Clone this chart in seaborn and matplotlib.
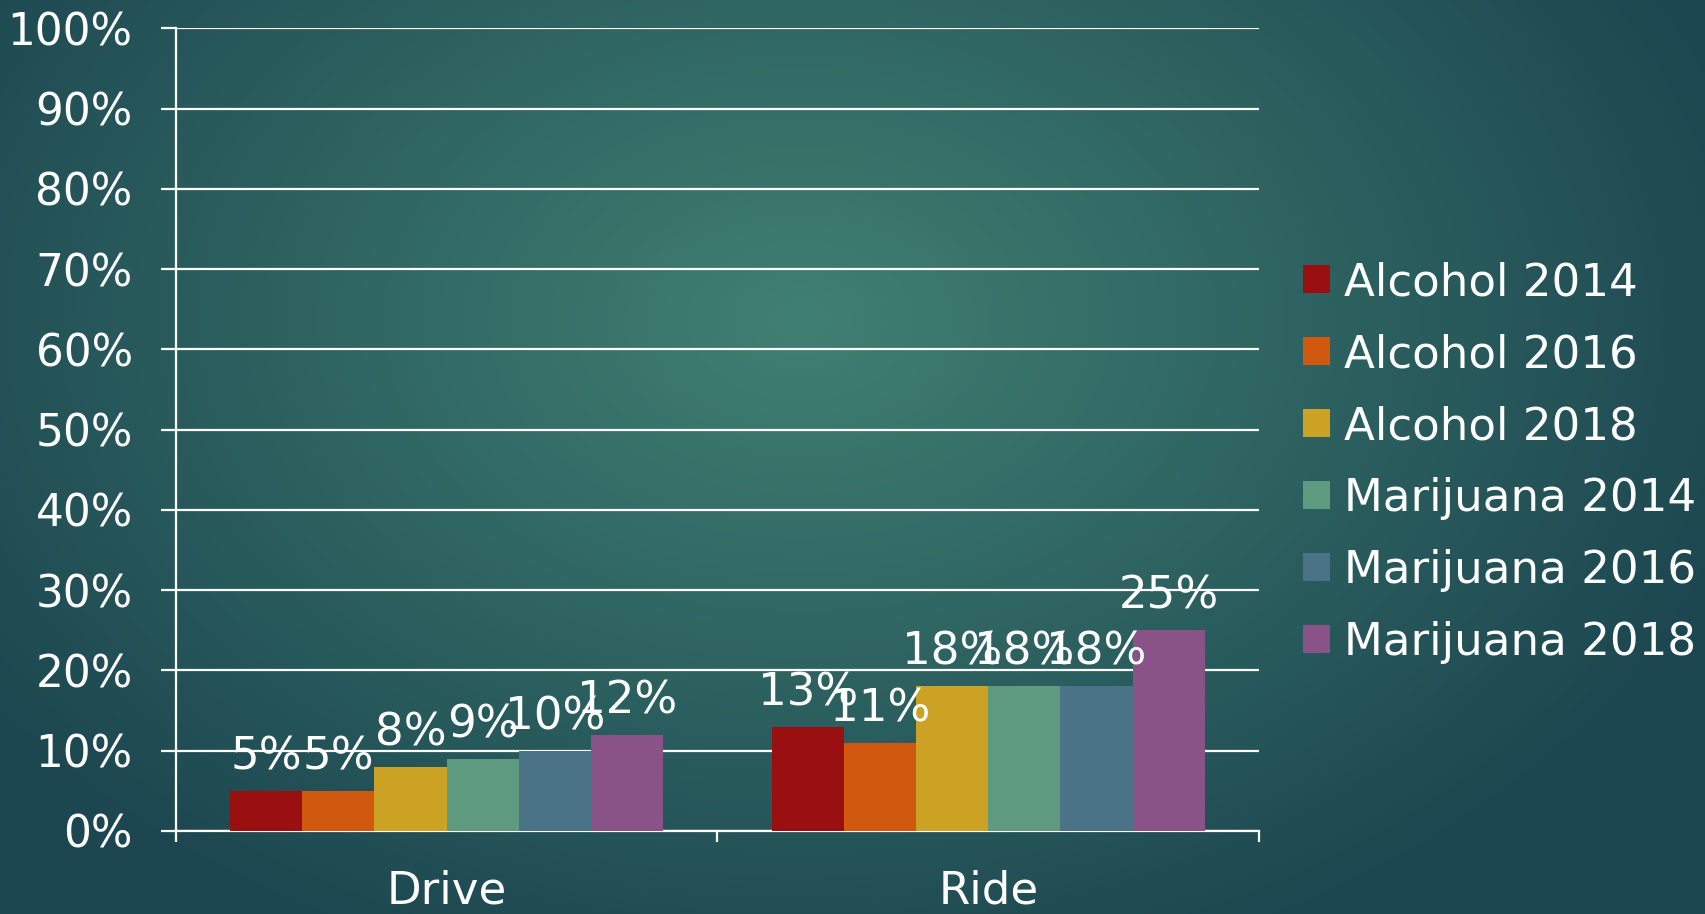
import numpy as np
import pandas as pd
import seaborn as sns
import matplotlib.pyplot as plt
from matplotlib.ticker import PercentFormatter
from matplotlib.patches import Patch

categories = ['Drive', 'Ride']
series = ['Alcohol 2014', 'Alcohol 2016', 'Alcohol 2018',
          'Marijuana 2014', 'Marijuana 2016', 'Marijuana 2018']
drive = [0.05, 0.05, 0.08, 0.09, 0.10, 0.12]
ride = [0.13, 0.11, 0.18, 0.18, 0.18, 0.25]
colors = ['#9a1010', '#d0580f', '#cba224', '#5e9a80', '#4a7388', '#8a5388']

df = pd.DataFrame({
    'Category': ['Drive'] * 6 + ['Ride'] * 6,
    'Series': series * 2,
    'Value': drive + ride,
})

sns.set_theme(style='white')
plt.rcParams['font.family'] = ['DejaVu Sans']
fs = 32.5

fig = plt.figure(figsize=(17.06, 9.14), dpi=100)

# background radial gradient
bg = fig.add_axes([0, 0, 1, 1], zorder=-10)
yy, xx = np.mgrid[0:914, 0:1706]
r = np.sqrt(((xx - 800) / 1000.0) ** 2 + ((yy - 320) / 700.0) ** 2)
r = np.clip(r, 0, 1)
c0 = np.array([0x40, 0x80, 0x72]) / 255.0
c1 = np.array([0x1c, 0x46, 0x50]) / 255.0
img = c0[None, None, :] * (1 - r[..., None]) + c1[None, None, :] * r[..., None]
bg.imshow(img, aspect='auto', extent=[0, 1, 0, 1])
bg.axis('off')

ax = fig.add_axes([0.103, 0.091, 0.635, 0.878])
ax.set_facecolor('none')

sns.barplot(data=df, x='Category', y='Value', hue='Series', palette=colors,
            order=categories, hue_order=series, width=0.8, saturation=1,
            linewidth=0, ax=ax, legend=False, zorder=3)

for cont in ax.containers:
    ax.bar_label(cont, labels=[f'{v:.0%}' for v in cont.datavalues],
                 padding=9, color='white', fontsize=fs)

ax.set_ylim(0, 1)
ax.set_xlim(-0.5, 1.5)
ax.set_yticks(np.arange(0, 1.01, 0.1))
ax.yaxis.set_major_formatter(PercentFormatter(1.0, decimals=0))
ax.grid(axis='y', color='white', linewidth=1.6, zorder=0)
ax.set_axisbelow(True)
ax.set_xlabel('')
ax.set_ylabel('')

for s in ['top', 'right']:
    ax.spines[s].set_visible(False)
for s in ['left', 'bottom']:
    ax.spines[s].set_color('white')
    ax.spines[s].set_linewidth(1.6)

ax.tick_params(axis='y', colors='white', labelsize=31.5, length=11, width=1.6,
               pad=20, direction='out', left=True)
ax.tick_params(axis='x', colors='white', labelsize=fs, length=0, pad=28)
ax.set_xticks([-0.5, 0.5, 1.5], minor=True)
ax.tick_params(axis='x', which='minor', length=8, width=1.6, color='white',
               direction='out', bottom=True)

handles = [Patch(facecolor=c, edgecolor='none') for c in colors]
fig.legend(handles, series, loc='center left', bbox_to_anchor=(0.764, 0.494),
           frameon=False, fontsize=fs, labelcolor='white',
           handlelength=0.58, handleheight=0.58, handletextpad=0.32,
           labelspacing=0.64, borderaxespad=0, borderpad=0)

fig.savefig('out.png', dpi=100)
